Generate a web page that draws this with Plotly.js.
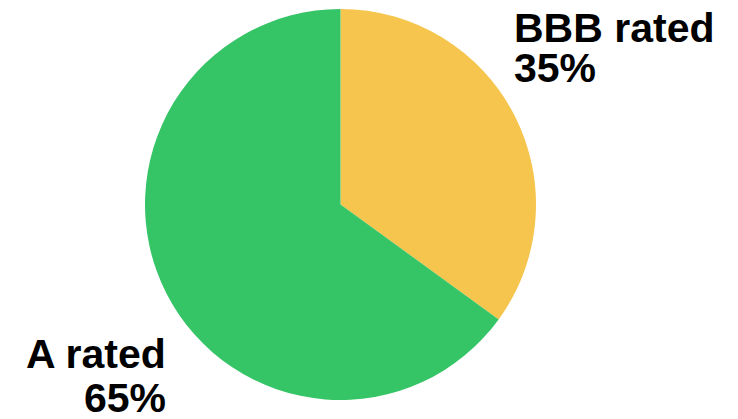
<!DOCTYPE html>
<html>
<head>
<meta charset="utf-8">
<script src="https://cdn.plot.ly/plotly-3.0.1.min.js"></script>
<style>html,body{margin:0;padding:0;background:#fff;}#chart{width:738px;height:419px;}</style>
</head>
<body>
<div id="chart"></div>
<script>
const labels = ["BBB rated", "A rated"];
const values = [35, 65];
const colors = ["#F6C54E", "#35C466"];
const percentText = ["35%", "65%"];

const fontSpec = {family: "Liberation Sans, Arial, sans-serif", size: 41, color: "#000"};

const data = [{
  type: "pie",
  labels: labels,
  values: values,
  sort: false,
  direction: "clockwise",
  rotation: 0,
  textinfo: "none",
  hoverinfo: "label+percent",
  marker: {colors: colors, line: {width: 0}},
  domain: {x: [0.19648, 0.72629], y: [0.04535, 0.97852]},
  showlegend: false
}];

const layout = {
  width: 738, height: 419,
  margin: {l: 0, r: 0, t: 0, b: 0},
  paper_bgcolor: "#fff",
  showlegend: false,
  annotations: [
    {text: "<b>" + labels[0] + "</b>", x: 512/738, y: 1 - 28/419, xref: "paper", yref: "paper", xanchor: "left", yanchor: "middle", showarrow: false, font: fontSpec},
    {text: "<b>" + percentText[0] + "</b>", x: 512/738, y: 1 - 68/419, xref: "paper", yref: "paper", xanchor: "left", yanchor: "middle", showarrow: false, font: fontSpec},
    {text: "<b>" + labels[1] + "</b>", x: 168/738, y: 1 - 354/419, xref: "paper", yref: "paper", xanchor: "right", yanchor: "middle", showarrow: false, font: fontSpec},
    {text: "<b>" + percentText[1] + "</b>", x: 168/738, y: 1 - 398/419, xref: "paper", yref: "paper", xanchor: "right", yanchor: "middle", showarrow: false, font: fontSpec}
  ]
};

Plotly.newPlot("chart", data, layout, {staticPlot: true, displayModeBar: false});
</script>
</body>
</html>
